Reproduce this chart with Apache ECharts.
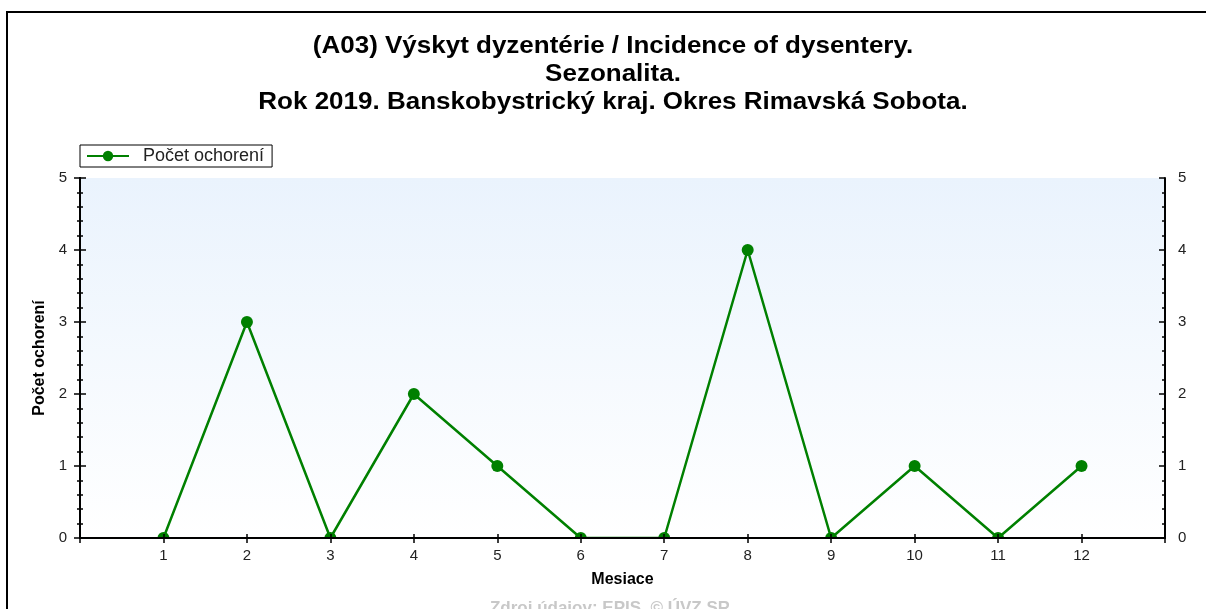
<!DOCTYPE html>
<html>
<head>
<meta charset="utf-8">
<script src="https://cdn.jsdelivr.net/npm/echarts@6/dist/echarts.min.js"></script>
<style>
html, body { margin: 0; padding: 0; background: #fff; }
#chart { width: 1206px; height: 609px; }
</style>
</head>
<body>
<div id="chart"></div>
<script>
// dáta grafu
var mesiace = [1, 2, 3, 4, 5, 6, 7, 8, 9, 10, 11, 12];
var pocty = [0, 3, 0, 2, 1, 0, 0, 4, 0, 1, 0, 1];
var yTicks = [0, 1, 2, 3, 4, 5];

var titulok = '(A03) Výskyt dyzentérie / Incidence of dysentery.\nSezonalita.\nRok 2019. Banskobystrický kraj. Okres Rimavská Sobota.';
var nazovSerie = 'Počet ochorení';

var font = 'Liberation Sans, Arial, sans-serif';

var chart = echarts.init(document.getElementById('chart'));

var body = mesiace.map(function (m, i) { return [m, pocty[i]]; });

// spoločné nastavenie osi x (0..13, popisy len 1..12)
function xOs(pos, inside, labels, len) {
    return {
        type: 'value', position: pos, min: 0, max: 13, interval: 1, z: 10,
        axisLine: { show: true, lineStyle: { color: '#000', width: 2 } },
        axisTick: { show: true, inside: inside, length: len, lineStyle: { color: '#000', width: 1.5 } },
        axisLabel: {
            show: labels, color: '#222', fontSize: 15, fontFamily: font, margin: 10,
            formatter: function (v) { return (v >= 1 && v <= 12) ? String(v) : ''; }
        },
        splitLine: { show: false }
    };
}

// spoločné nastavenie osi y
function yOs(pos, inside, labels) {
    return {
        type: 'value', position: pos, min: 0, max: 5, interval: 1, z: 10,
        axisLine: { show: true, lineStyle: { color: '#000', width: 2 } },
        axisTick: { show: true, inside: inside, length: 6, lineStyle: { color: '#000', width: 1.5 } },
        minorTick: { show: true, splitNumber: 5, length: 3, lineStyle: { color: '#000', width: 1.5 } },
        axisLabel: {
            show: labels, color: '#222', fontSize: 15, fontFamily: font, margin: 13,
            formatter: function (v) { return yTicks.indexOf(v) >= 0 ? String(v) : ''; }
        },
        splitLine: { show: false }
    };
}

var xDole = xOs('bottom', false, true, 4);
xDole.name = 'Mesiace';
xDole.nameLocation = 'middle';
xDole.nameGap = 34;
xDole.nameTextStyle = { fontSize: 16, fontWeight: 'bold', color: '#000', fontFamily: font };

var yVlavo = yOs('left', false, true);
yVlavo.name = 'Počet ochorení';
yVlavo.nameLocation = 'middle';
yVlavo.nameGap = 28;
yVlavo.nameTextStyle = { fontSize: 16, fontWeight: 'bold', color: '#000', fontFamily: font };

var option = {
    backgroundColor: '#fff',
    animation: false,
    legend: {
        data: [nazovSerie],
        left: 80,
        top: 145,
        orient: 'horizontal',
        backgroundColor: '#fff',
        borderColor: '#000',
        borderWidth: 1,
        borderRadius: 0,
        padding: [2, 8, 2, 6],
        itemWidth: 42,
        itemHeight: 13,
        textStyle: { fontSize: 18, color: '#222', fontFamily: font, padding: [0, 0, 0, 9] }
    },
    grid: {
        left: 80, right: 41, top: 178, height: 360,
        show: true,
        borderWidth: 0,
        backgroundColor: new echarts.graphic.LinearGradient(0, 0, 0, 1, [
            { offset: 0, color: '#eaf3fd' },
            { offset: 1, color: '#ffffff' }
        ])
    },
    xAxis: [
        xDole,
        xOs('bottom', true, false, 4),
        xOs('top', true, false, 5)
    ],
    yAxis: [
        yVlavo,
        yOs('left', true, false),
        yOs('right', false, true),
        yOs('right', true, false)
    ],
    graphic: [
        // nadpis (roztiahnutý do šírky ako v origináli)
        {
            type: 'text', z: 20, silent: true,
            x: 613, y: 47,
            scaleX: 1.13,
            style: {
                text: titulok,
                fill: '#000', font: 'bold 23px ' + font,
                lineHeight: 28,
                textAlign: 'center', textVerticalAlign: 'top',
                y: -14
            }
        },
        {
            type: 'rect', z: 5, silent: true,
            shape: { x: 76, y: 539, width: 1093, height: 7 },
            style: { fill: '#fff' }
        },
        {
            type: 'rect', z: 20, silent: true,
            shape: { x: 7, y: 12, width: 1300, height: 700 },
            style: { fill: 'none', stroke: '#000', lineWidth: 2 }
        },
        {
            type: 'text', z: 20, silent: true,
            x: 610, y: 600,
            style: {
                text: 'Zdroj údajov: EPIS, © ÚVZ SR',
                fill: '#c8c8c8', font: 'bold 17px ' + font,
                textAlign: 'center', textVerticalAlign: 'top'
            }
        }
    ],
    series: [{
        name: nazovSerie,
        type: 'line',
        xAxisIndex: 0,
        yAxisIndex: 0,
        data: body,
        symbol: 'circle',
        symbolSize: 12,
        color: '#008000',
        lineStyle: { color: '#008000', width: 2.5 },
        itemStyle: { color: '#008000' },
        z: 3
    }]
};

chart.setOption(option);
</script>
</body>
</html>
